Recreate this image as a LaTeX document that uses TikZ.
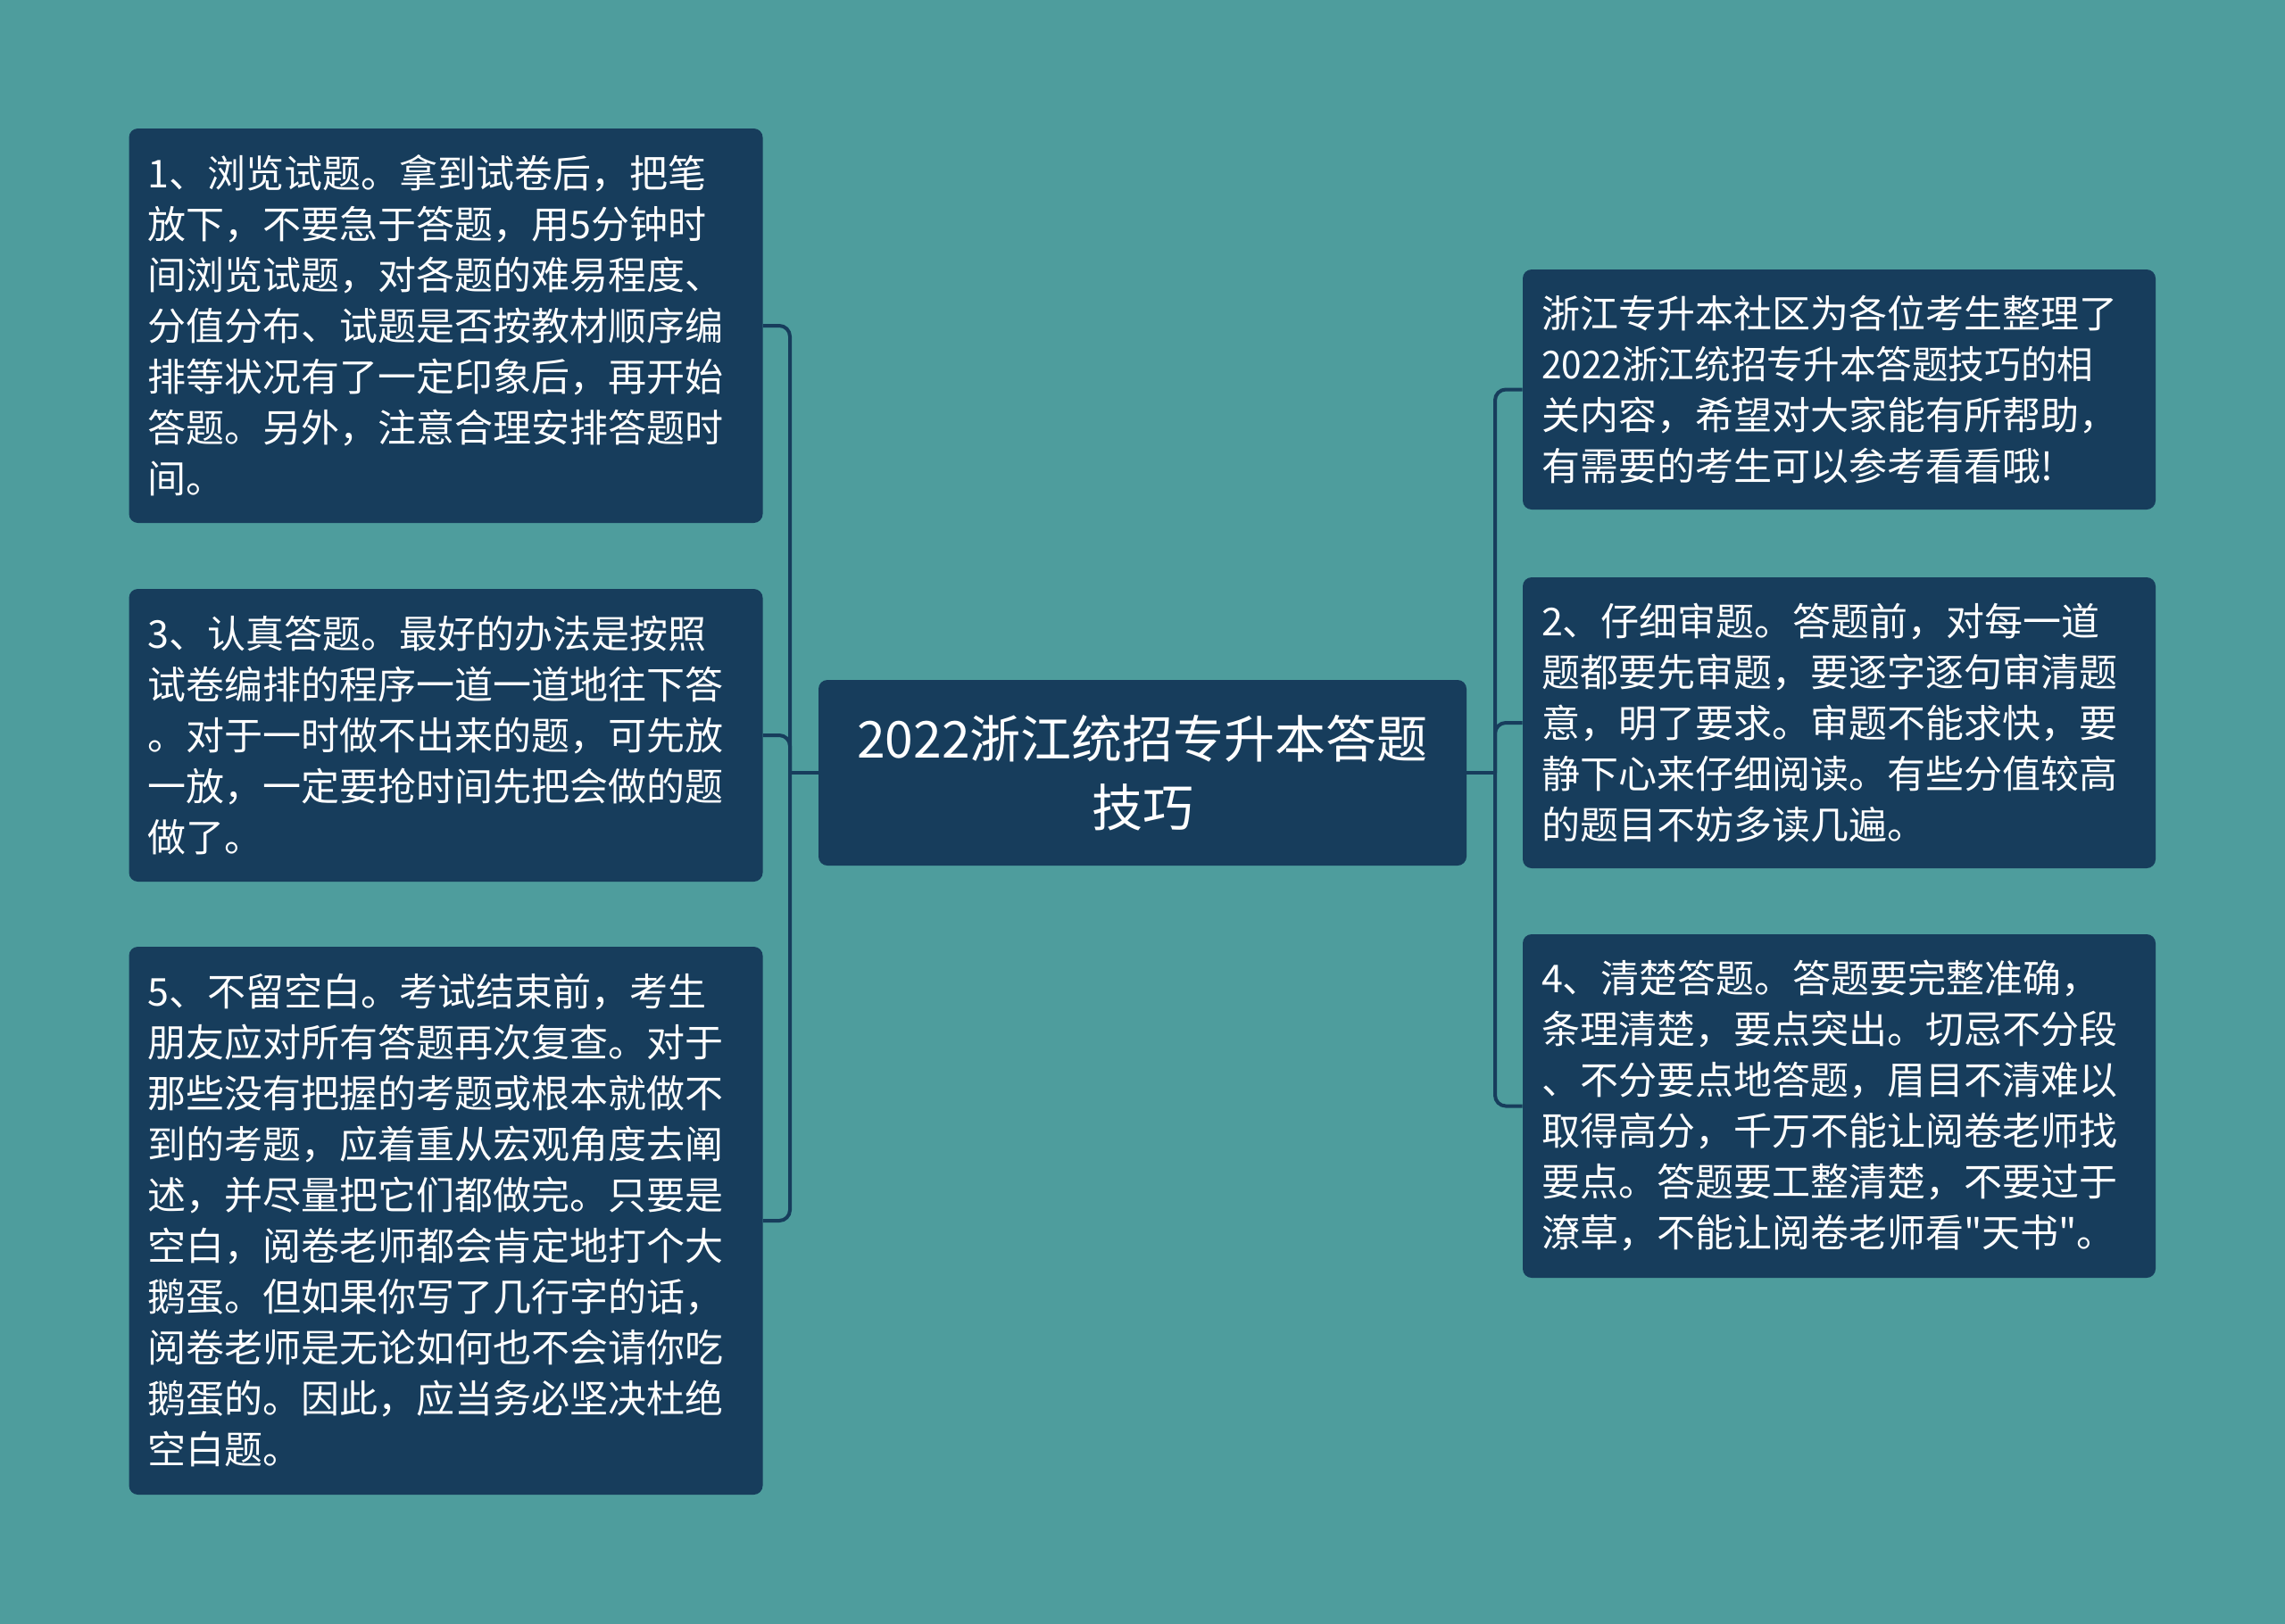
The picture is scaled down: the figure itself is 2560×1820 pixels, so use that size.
\documentclass[tikz,border=0pt]{standalone}
\usepackage{fontspec}
\usepackage{graphicx}
\newfontfamily\cjk{Noto Sans CJK SC}
\definecolor{bgc}{RGB}{78,157,157}
\definecolor{boxc}{RGB}{23,61,92}
\tikzset{
  box/.style={fill=boxc, rounded corners=5pt, text=white, align=left, inner sep=0pt, anchor=center,
    font=\cjk\fontsize{21.5pt}{28.5pt}\selectfont},
  conn/.style={draw=boxc, line width=2pt, rounded corners=6pt},
  side/.style={box, minimum width=355pt, text width=334pt},
  rside/.style={box, minimum width=354.5pt, text width=333.5pt}
}
\begin{document}
\begin{tikzpicture}[x=0.5pt,y=-0.5pt]
\useasboundingbox (0,0) rectangle (2560,1820);
\fill[bgc] (0,0) rectangle (2560,1820);

\node[side, minimum height=221pt] (L1) at (499.5,365) {1、浏览试题。拿到试卷后，把笔\\放下，不要急于答题，用5分钟时\\间浏览试题，对各题的难易程度、\\分值分布、试题是否按教材顺序编\\排等状况有了一定印象后，再开始\\答题。另外，注意合理安排答题时\\间。};
\node[side, minimum height=164pt] (L3) at (499.5,824) {3、认真答题。最好的办法是按照\\试卷编排的程序一道一道地往下答\\。对于一时做不出来的题，可先放\\一放，一定要抢时间先把会做的题\\做了。};
\node[side, minimum height=307pt] (L5) at (499.5,1368) {5、不留空白。考试结束前，考生\\朋友应对所有答题再次复查。对于\\那些没有把握的考题或根本就做不\\到的考题，应着重从宏观角度去阐\\述，并尽量把它们都做完。只要是\\空白，阅卷老师都会肯定地打个大\\鹅蛋。但如果你写了几行字的话，\\阅卷老师是无论如何也不会请你吃\\鹅蛋的。因此，应当务必坚决杜绝\\空白题。};

\node[box, minimum width=363pt, minimum height=104pt, align=center, font=\cjk\fontsize{28.5pt}{38.5pt}\selectfont] (C) at (1280,866) {2022浙江统招专升本答题\\技巧};

\node[rside, minimum height=134.5pt] (R1) at (2060.5,436.5) {浙江专升本社区为各位考生整理了\\\scalebox{0.945}[1]{2022浙江统招专升本答题技巧的相}\\关内容，希望对大家能有所帮助，\\有需要的考生可以参考看看哦!};
\node[rside, minimum height=163pt] (R2) at (2060.5,810) {2、仔细审题。答题前，对每一道\\题都要先审题，要逐字逐句审清题\\意，明了要求。审题不能求快，要\\静下心来仔细阅读。有些分值较高\\的题目不妨多读几遍。};
\node[rside, minimum height=192.5pt] (R4) at (2060.5,1239.5) {4、清楚答题。答题要完整准确，\\条理清楚，要点突出。切忌不分段\\、不分要点地答题，眉目不清难以\\取得高分，千万不能让阅卷老师找\\要点。答题要工整清楚，不要过于\\潦草，不能让阅卷老师看"天书"。};

\coordinate (jl) at (885,866);
\coordinate (jr) at (1675,866);
\draw[conn] (C.west) -- (jl);
\draw[conn] (C.east) -- (jr);
\draw[conn] (jl) |- (L1.east);
\draw[conn] (jl) |- (L3.east);
\draw[conn] (jl) |- (L5.east);
\draw[conn] (jr) |- (R1.west);
\draw[conn] (jr) |- (R2.west);
\draw[conn] (jr) |- (R4.west);
\end{tikzpicture}
\end{document}
